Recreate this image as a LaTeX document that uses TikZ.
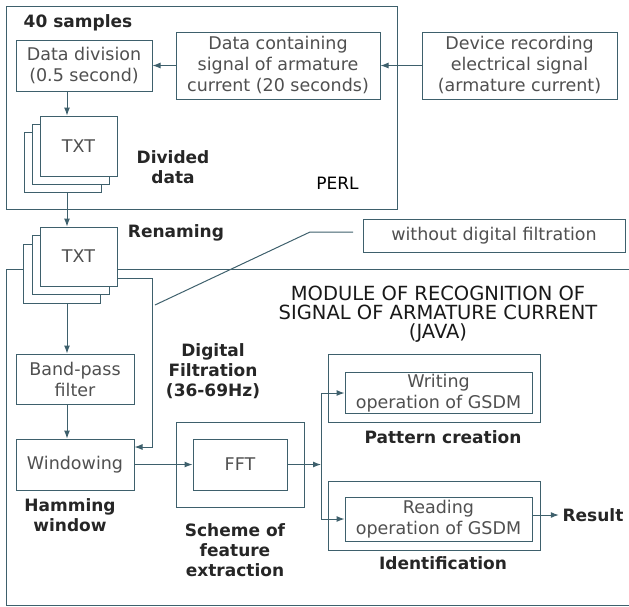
\documentclass[tikz,border=0pt]{standalone}
\usepackage{fontspec}
\setmainfont{DejaVu Sans}
\usetikzlibrary{arrows.meta,positioning}
\definecolor{linec}{RGB}{62,96,108}
\definecolor{boxtxt}{RGB}{80,80,80}
\tikzset{
  box/.style={draw=linec, fill=white, text=boxtxt, inner sep=0pt, align=center,
    font=\fontsize{17.5}{21}\selectfont},
  page/.style={box, minimum width=77pt, minimum height=60pt},
  lbl/.style={text=black!85, align=center, font=\fontsize{17}{20}\selectfont\bfseries},
  conn/.style={draw=linec, ->},
}
\begin{document}
\begin{tikzpicture}[x=1pt, y=-1pt, line width=1pt, >={Latex[length=8pt,width=6pt]}]
  \useasboundingbox (0,0) rectangle (629,606);
  % PERL part
  \draw[linec] (6,6) rectangle (397,209);
  \node[lbl] (samples) at (78,23) {40 samples};
  \node[box, minimum width=136pt, minimum height=51pt] (div) at (84,65.5) {Data division\\(0.5 second)};
  \node[box, minimum width=204pt, minimum height=67pt] (contain) at (278,65.5) {Data containing\\signal of armature\\current (20 seconds)};
  \node[box, minimum width=195pt, minimum height=67pt] (device) at (519.5,65.5) {Device recording\\electrical signal\\(armature current)};
  \draw[conn] (device) -- (contain);
  \draw[conn] (contain) -- (div);
  \node[page] (txtAc) at (62.5,162) {};
  \node[page] (txtAb) at (70.5,154) {};
  \node[page] (txtA) at (78.5,146) {TXT};
  \node[lbl] (divided) at (173,167) {Divided\\data};
  \node[font=\fontsize{17}{20}\selectfont] (perl) at (337.5,183) {PERL};
  \coordinate (col) at (67,0);
  \draw[conn] (div.south -| col) -- (txtA.north -| col);
  % JAVA part
  \draw[linec] (629,269) -- (6,269) -- (6,605) -- (629,605);
  \node[page, minimum height=59pt] (txtBc) at (62,274) {};
  \node[page, minimum height=59pt] (txtBb) at (70.5,265) {};
  \node[page, minimum height=59pt] (txtB) at (78.5,256.5) {TXT};
  \node[lbl] (renaming) at (176,233) {Renaming};
  \draw[conn] (txtAc.south -| col) -- (txtB.north -| col);
  \node[box, minimum width=118pt, minimum height=50pt] (band) at (75,379) {Band-pass\\filter};
  \node[box, minimum width=118pt, minimum height=51pt] (win) at (75,464.5) {Windowing};
  \draw[conn] (txtBc.south -| col) -- (band.north -| col);
  \draw[conn] (band.south -| col) -- (win.north -| col);
  % bypass without filter
  \coordinate (byp) at (152,278);
  \coordinate (bypend) at (152,447);
  \draw[conn] (txtB.east |- byp) -- (byp) -- (bypend) -- (win.east |- bypend);
  \node[box, minimum width=262pt, minimum height=33pt] (nofilt) at (494,235.5) {without digital filtration};
  \coordinate (cA) at (155,305);
  \coordinate (cB) at (310,232);
  \coordinate (cC) at (353,232);
  \draw[linec] (cA) -- (cB) -- (cC);
  \node[lbl] (digital) at (213,371) {Digital\\Filtration\\(36-69Hz)};
  \node[text=black!90, align=center, font=\fontsize{19.5}{19}\selectfont] (module) at (438,314)
    {MODULE OF RECOGNITION OF\\SIGNAL OF ARMATURE CURRENT\\(JAVA)};
  \node[lbl] (hamming) at (70,515) {Hamming\\window};
  % feature extraction
  \node[box, minimum width=128pt, minimum height=85pt] (fftout) at (240,464.5) {};
  \node[box, minimum width=94pt, minimum height=51pt] (fft) at (240,464.5) {FFT};
  \node[lbl] (scheme) at (235,550) {Scheme of\\feature\\extraction};
  \draw[conn] (win.east) -- (fft.west);
  % GSDM
  \node[box, minimum width=212pt, minimum height=68pt] (writeout) at (434,388) {};
  \node[box, minimum width=187pt, minimum height=41pt] (write) at (438.5,393) {Writing\\operation of GSDM};
  \node[lbl] (pattern) at (443,437) {Pattern creation};
  \node[box, minimum width=212pt, minimum height=69pt] (readout) at (434,515.5) {};
  \node[box, minimum width=187pt, minimum height=44pt] (read) at (438.5,519) {Reading\\operation of GSDM};
  \node[lbl] (ident) at (443,563) {Identification};
  \node[lbl] (result) at (593,515) {Result};
  \coordinate (jn) at (321,464.5);
  \draw[conn] (fft.east) -- (jn);
  \draw[conn] (jn) |- (write.west);
  \draw[conn] (jn) |- (read.west);
  \draw[conn] (read.east |- result) -- (result.west);
\end{tikzpicture}
\end{document}
